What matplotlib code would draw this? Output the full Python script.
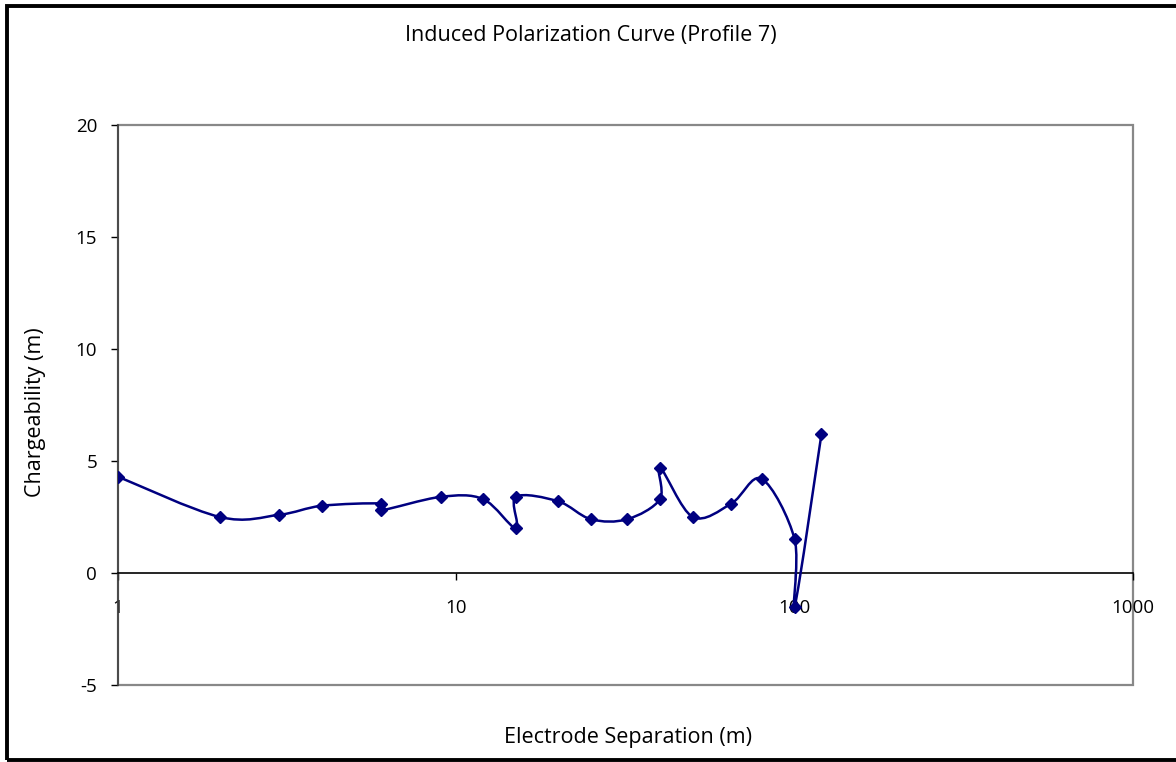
#!/usr/bin/env python3
"""
IP curve, profile 7 - excel style smoothed line on log x axis
"""
import numpy as np
import matplotlib
matplotlib.use('Agg')
import matplotlib.pyplot as plt
from matplotlib.path import Path
from matplotlib.patches import PathPatch, Rectangle

plt.rcParams['font.family'] = ['Open Sans', 'DejaVu Sans']
plt.rcParams['axes.unicode_minus'] = False

# data
separation = [1, 2, 3, 4, 6, 6, 9, 12, 15, 15, 20, 25, 32, 40, 40, 50, 65, 80, 100, 100, 120]
chargeability = [4.3, 2.5, 2.6, 3.0, 3.1, 2.8, 3.4, 3.3, 2.0, 3.4, 3.2, 2.4, 2.4, 3.3, 4.7, 2.5, 3.1, 4.2, 1.5, -1.5, 6.2]
xticks = [1, 10, 100, 1000]
yticks = [-5, 0, 5, 10, 15, 20]

navy = '#000080'

fig = plt.figure(figsize=(11.76, 7.62), dpi=100)
W, H = 1176, 762
ax = fig.add_axes([118/W, 1-685/H, (1133-118)/W, (685-125)/H])
ax.set_xscale('log')
ax.set_xlim(1, 1000)
ax.set_ylim(-5, 20)

# excel-like smoothing: bezier (catmull-rom) in log-x / y space
u = np.log10(separation)
v = np.array(chargeability, dtype=float)
n = len(u)
verts = [(u[0], v[0])]
codes = [Path.MOVETO]
for i in range(n-1):
	p0 = np.array([u[max(i-1, 0)], v[max(i-1, 0)]])
	p1 = np.array([u[i], v[i]])
	p2 = np.array([u[i+1], v[i+1]])
	p3 = np.array([u[min(i+2, n-1)], v[min(i+2, n-1)]])
	c1 = p1 + (p2-p0)/6.0
	c2 = p2 - (p3-p1)/6.0
	verts += [tuple(c1), tuple(c2), tuple(p2)]
	codes += [Path.CURVE4]*3
verts = [(10**a, b) for a, b in verts]
ax.add_patch(PathPatch(Path(verts, codes), fill=False, edgecolor=navy, lw=1.8, zorder=3))
ax.plot(separation, chargeability, ls='none', marker='D', ms=6.5, color=navy, zorder=4)

# plot area frame
for s in ['top', 'right']:
	ax.spines[s].set_visible(False)
ax.add_patch(Rectangle((0, 0), 1, 1, transform=ax.transAxes, fill=False,
	edgecolor='#888888', lw=1.6, zorder=1, clip_on=False))
ax.spines['left'].set_color('#404040')
ax.spines['left'].set_linewidth(1.2)
ax.spines['bottom'].set_position(('data', 0))
ax.spines['bottom'].set_color('black')
ax.spines['bottom'].set_linewidth(1.2)

ax.set_xticks(xticks)
ax.set_xticklabels([str(t) for t in xticks])
ax.xaxis.set_minor_locator(matplotlib.ticker.NullLocator())
ax.set_yticks(yticks)
ax.tick_params(axis='x', direction='out', length=5, width=1, pad=14, labelsize=13.5)
ax.tick_params(axis='y', direction='out', length=5, width=1, pad=10, labelsize=13.5)

fig.text(591/W, 1-35/H, 'Induced Polarization Curve (Profile 7)', ha='center', va='center', fontsize=15.5)
fig.text(36/W, 1-412/H, 'Chargeability (m)', ha='center', va='center', rotation=90, fontsize=15.5)
fig.text(628/W, 1-737/H, 'Electrode Separation (m)', ha='center', va='center', fontsize=15.5)

# outer chart border (right edge is off the picture)
fig.patches.append(Rectangle((7/W, 2/H), (W+20)/W, (H-8)/H, transform=fig.transFigure,
	fill=False, edgecolor='black', lw=2.8))

fig.savefig('out.png', dpi=100)
print('EOF')
